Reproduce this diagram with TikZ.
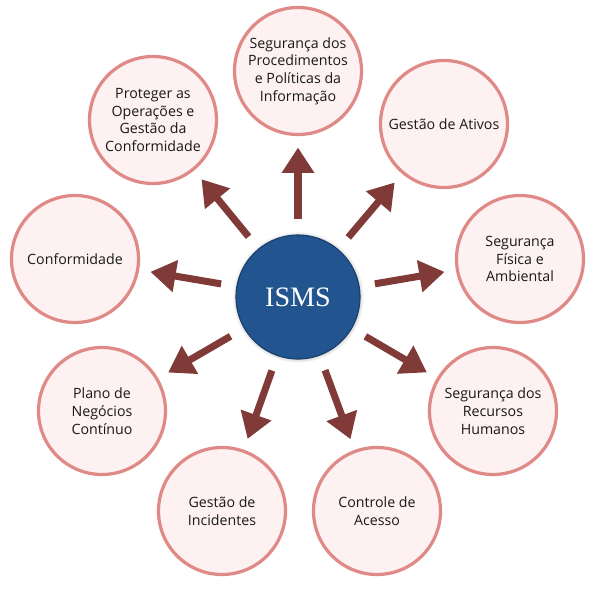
\documentclass[tikz,border=0pt]{standalone}
\usepackage{fontspec}
\setmainfont{Open Sans}
\newfontfamily\ismsfont{Liberation Serif}
\usetikzlibrary{arrows.meta,shadows}

\newlength{\du}
\setlength{\du}{0.025cm}

\definecolor{ismsblue}{RGB}{34,84,143}
\definecolor{ringpink}{RGB}{224,138,136}
\definecolor{bubblefill}{RGB}{253,241,241}
\definecolor{arrowred}{RGB}{128,59,57}

\begin{document}
\begin{tikzpicture}[
  hub/.style={circle, minimum size=124\du, inner sep=0pt, outer sep=0pt,
    fill=ismsblue, draw=ismsblue!75!black, line width=0.8pt, text=white,
    circular drop shadow={shadow xshift=0pt, shadow yshift=0pt, shadow scale=1.06, opacity=0.7},
    font=\ismsfont\fontsize{20}{24}\selectfont},
  area/.style={circle, minimum size=127\du, inner sep=0pt, outer sep=0pt,
    fill=bubblefill, draw=ringpink, line width=2.3pt, align=center,
    text=black!90, font=\fontsize{10.1}{12.6}\selectfont},
  spoke/.style={draw=arrowred, line width=5pt, -{Triangle[width=22pt,length=18pt]},
    shorten <=16\du, shorten >=13\du}
]
\pgftransformxscale{1.000000}
\pgftransformyscale{-1.000000}
\useasboundingbox (0\du,0\du) rectangle (600\du,600\du);

% centre
\node[hub] (isms) at (298\du,297\du) {ISMS};

% areas, clockwise from the top
\node[area] (politicas) at (298\du,71\du) {Segurança dos\\Procedimentos\\e Políticas da\\Informação};
\node[area] (ativos) at (444\du,124\du) {Gestão de Ativos};
\node[area] (fisica) at (520\du,259\du) {Segurança\\Física e\\Ambiental};
\node[area] (rh) at (493\du,411\du) {Segurança dos\\Recursos\\Humanos};
\node[area] (acesso) at (377\du,511\du) {Controle de\\Acesso};
\node[area] (incidentes) at (222\du,511\du) {Gestão de\\Incidentes};
\node[area] (plano) at (102\du,411\du) {Plano de\\Negócios\\Contínuo};
\node[area] (conformidade) at (75\du,259\du) {Conformidade};
\node[area] (operacoes) at (153\du,120\du) {Proteger as\\Operações e\\Gestão da\\Conformidade};

% spokes
\foreach \n in {politicas,ativos,fisica,rh,acesso,incidentes,plano,conformidade,operacoes}
  \draw[spoke] (isms) -- (\n);
\end{tikzpicture}
\end{document}
